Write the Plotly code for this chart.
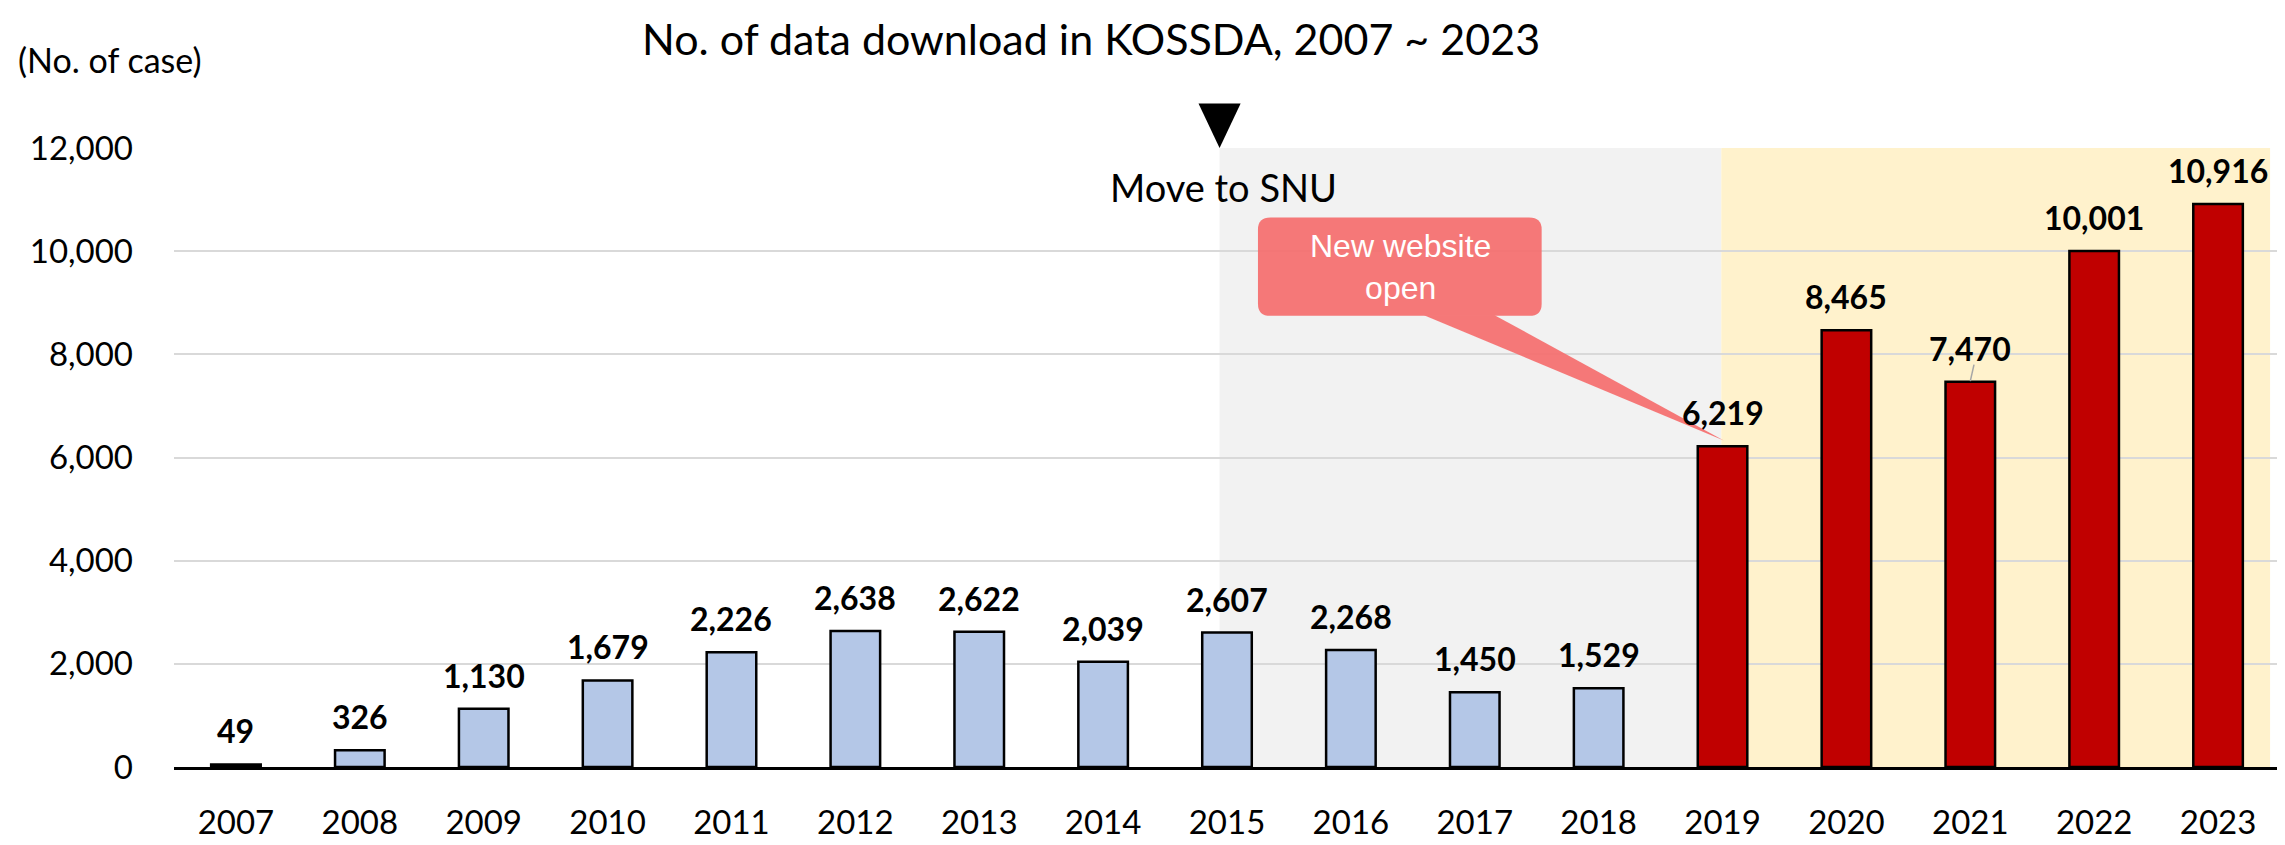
import plotly.graph_objects as go

years = [str(y) for y in range(2007, 2024)]
downloads = [49, 326, 1130, 1679, 2226, 2638, 2622, 2039, 2607, 2268, 1450, 1529,
             6219, 8465, 7470, 10001, 10916]
bar_colors = ["#B4C7E7"] * 12 + ["#C00000"] * 5
labels = [f"{v:,}" for v in downloads]
y_ticks = [0, 2000, 4000, 6000, 8000, 10000, 12000]
y_tick_text = [f"{v:,}" for v in y_ticks]

FONT = "Lato, 'Open Sans', sans-serif"

fig = go.Figure()
fig.add_trace(go.Bar(
    x=years, y=downloads,
    marker=dict(color=bar_colors, line=dict(color="black", width=2.5)),
    width=0.4, hoverinfo="x+y",
))

# data labels (category index positions)
for i, (v, t) in enumerate(zip(downloads, labels)):
    fig.add_annotation(x=i, y=v, xref="x", yref="y", text=f"<b>{t}</b>", showarrow=False,
                       yanchor="bottom", yshift=12,
                       font=dict(family=FONT, size=32, color="black"))

shapes = []
shapes.append(dict(type="rect", xref="x", yref="y", x0=7.94, x1=11.99, y0=0, y1=12000,
                   fillcolor="#F2F2F2", line=dict(width=0), layer="below"))
shapes.append(dict(type="rect", xref="x", yref="y", x0=11.99, x1=16.42, y0=0, y1=12000,
                   fillcolor="#FFF2CC", line=dict(width=0), layer="below"))
shapes.append(dict(type="path", xref="x", yref="paper",
                   path="M 7.77 1.072 L 8.11 1.072 L 7.94 1.0 Z",
                   fillcolor="black", line=dict(width=0)))
x0, x1, y0, y1 = 8.25, 10.54, 8748, 10654
rx, ry = 0.1, 230
box = (f"M {x0+rx} {y0} L {x1-rx} {y0} Q {x1} {y0} {x1} {y0+ry} "
       f"L {x1} {y1-ry} Q {x1} {y1} {x1-rx} {y1} L {x0+rx} {y1} "
       f"Q {x0} {y1} {x0} {y1-ry} L {x0} {y0+ry} Q {x0} {y0} {x0+rx} {y0} Z")
shapes.append(dict(type="path", xref="x", yref="y", path=box,
                   fillcolor="rgba(245,110,110,0.92)", line=dict(width=0)))
shapes.append(dict(type="path", xref="x", yref="y",
                   path="M 9.59 8760 L 10.16 8760 L 12.01 6330 Z",
                   fillcolor="rgba(245,110,110,0.92)", line=dict(width=0)))
shapes.append(dict(type="line", xref="x", yref="y", x0=14.0, x1=14.03, y0=7480, y1=7800,
                   line=dict(color="#A6A6A6", width=1.5)))
fig.update_layout(shapes=shapes)

fig.add_annotation(x=9.4, y=9700, xref="x", yref="y", text="New website<br>open",
                   showarrow=False, font=dict(family="'Liberation Sans', Arial", size=32, color="white"))
fig.add_annotation(x=7.97, y=11250, xref="x", yref="y", text="Move to SNU", showarrow=False,
                   font=dict(family=FONT, size=38, color="black"))
fig.add_annotation(x=-0.075, y=1.143, xref="paper", yref="paper", text="(No. of case)",
                   showarrow=False, xanchor="left", yanchor="middle",
                   font=dict(family=FONT, size=34, color="black"))

fig.update_layout(
    width=2285, height=845,
    margin=dict(l=166, r=13, t=140, b=63),
    paper_bgcolor="white", plot_bgcolor="rgba(0,0,0,0)",
    bargap=0.6, showlegend=False,
    title=dict(text="No. of data download in KOSSDA, 2007 ~ 2023", xref="container",
               x=0.474, xanchor="center", y=0.962, yanchor="middle",
               font=dict(family=FONT, size=43, color="black")),
    font=dict(family=FONT, color="black"),
)
fig.update_xaxes(type="category", range=[-0.5, 16.5], showline=True, linecolor="black", linewidth=3,
                 showgrid=False, ticks="", tickfont=dict(family=FONT, size=33, color="black"),
                 ticklabelstandoff=24)
fig.update_yaxes(range=[0, 12000], tickvals=y_ticks, ticktext=y_tick_text,
                 showgrid=True, gridcolor="#D9D9D9", gridwidth=2, zeroline=False,
                 showline=False, ticks="", tickfont=dict(family=FONT, size=33, color="black"),
                 ticklabelstandoff=40)

fig.write_html("out.html")
